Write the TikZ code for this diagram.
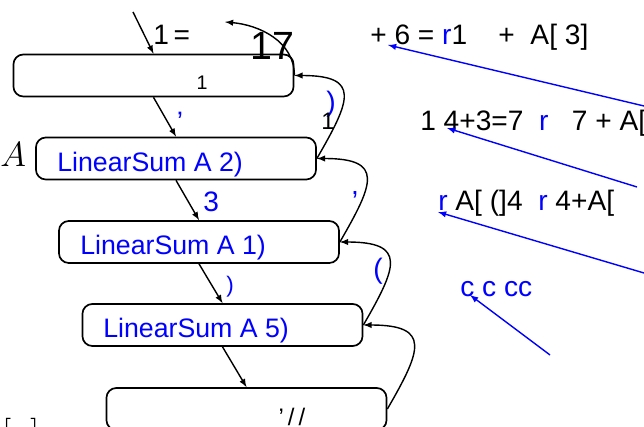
\documentclass[tikz,border=0pt]{standalone}
\usepackage{fontspec}
\setmainfont{Liberation Sans}
\usetikzlibrary{positioning}

\begin{document}
\begin{tikzpicture}[x=0.025cm, y=0.025cm, >=latex,
        callbox/.style={draw, line width=1.2pt, rounded corners=7pt, minimum width=7cm, minimum height=1.05cm},
        calltext/.style={anchor=base west, inner sep=0pt, text=blue, font=\fontsize{19}{22}\selectfont},
        sumtext/.style={anchor=base west, inner sep=0pt, font=\fontsize{20}{24}\selectfont},
        bigtext/.style={inner sep=0pt, font=\fontsize{20}{24}\selectfont},
        callarrow/.style={->, line width=1pt},
        notearrow/.style={->, blue, line width=1pt}]
        \useasboundingbox (0,0) rectangle (644,427);
        % call boxes
        \foreach \n/\x/\y in {1/153.5/351.5, 2/176/268.5, 3/199/185, 4/222.5/102, 5/246.5/18} {
            \node[callbox] (b\n) at (\x,\y) {};
        }
        \node[calltext] (t2) at (57,255) {LinearSum A 2)};
        \node[calltext] (t3) at (80,172) {LinearSum A 1)};
        \node[calltext] (t4) at (103,89) {LinearSum A 5)};
        \node[inner sep=0pt, font=\fontsize{14}{16}\selectfont] (t1) at (202,344) {1};
        \node[inner sep=0pt, font=\fontsize{17}{20}\selectfont] (t5) at (292,10) {\textquoteright\,/\,/};
        \node[anchor=base west, inner sep=0pt, font=\fontsize{24}{26}\selectfont] (lefta) at (0,260) {$A$};
        \node[anchor=north west, inner sep=0pt, font=\fontsize{24}{26}\selectfont] (leftb) at (2,9) {$[\;\;]$};
        % calls going down
        \coordinate (start) at (133,415);
        \draw[callarrow] (start) -- (b1.north);
        \foreach \a/\b in {1/2, 2/3, 3/4, 4/5} {
            \draw[callarrow] (b\a.south) -- (b\b.north);
        }
        \node[sumtext] (c0) at (153,382) {1\,=};
        \node[bigtext, text=blue] (c1) at (180,305) {\textquoteright};
        \node[sumtext, text=blue] (c2) at (203,215) {3};
        \node[inner sep=0pt, text=blue, font=\fontsize{16}{18}\selectfont] (c3) at (230,140) {)};
        % returns going up
        \foreach \a/\b in {5/4, 4/3, 3/2, 2/1} {
            \draw[callarrow] (b\a.east) to[out=60, in=0, looseness=2] (b\b.east);
        }
        \coordinate (done) at (225,405);
        \draw[callarrow] (b1.east) to[out=90, in=-5] (done);
        \node[anchor=base west, inner sep=0pt, font=\fontsize{28}{32}\selectfont] (r0) at (250,367) {17};
        \node[bigtext, text=blue] (r1) at (331,323) {)};
        \node[inner sep=0pt, font=\fontsize{17}{20}\selectfont] (r1b) at (328,306) {1};
        \node[bigtext, text=blue] (r2) at (355,232) {,};
        \node[bigtext, text=blue] (r3) at (378,156) {(};
        % sums on the right
        \node[sumtext] (s1) at (370,382) {+ 6 = {\color{blue}r}1 \ \ \ + \ A[ 3]};
        \node[sumtext] (s2) at (420,296) {1 4+3=7 \ {\color{blue}r} \ \ 7 + A[};
        \node[sumtext] (s3) at (438,216) {{\color{blue}r} A[ (]4 \ {\color{blue}r} 4+A[};
        \node[sumtext, text=blue, font=\fontsize{20}{22}\selectfont] (s4) at (460,130) {c c cc};
        % pointers to the sums
        \coordinate (p1) at (644,321);
        \coordinate (q1) at (388,382);
        \coordinate (p2) at (637,240);
        \coordinate (q2) at (447,299);
        \coordinate (p3) at (644,154);
        \coordinate (q3) at (438,215);
        \coordinate (p4) at (550,72);
        \coordinate (q4) at (470,132);
        \foreach \i in {1,...,4} {
            \draw[notearrow] (p\i) -- (q\i);
        }
\end{tikzpicture}
\end{document}
